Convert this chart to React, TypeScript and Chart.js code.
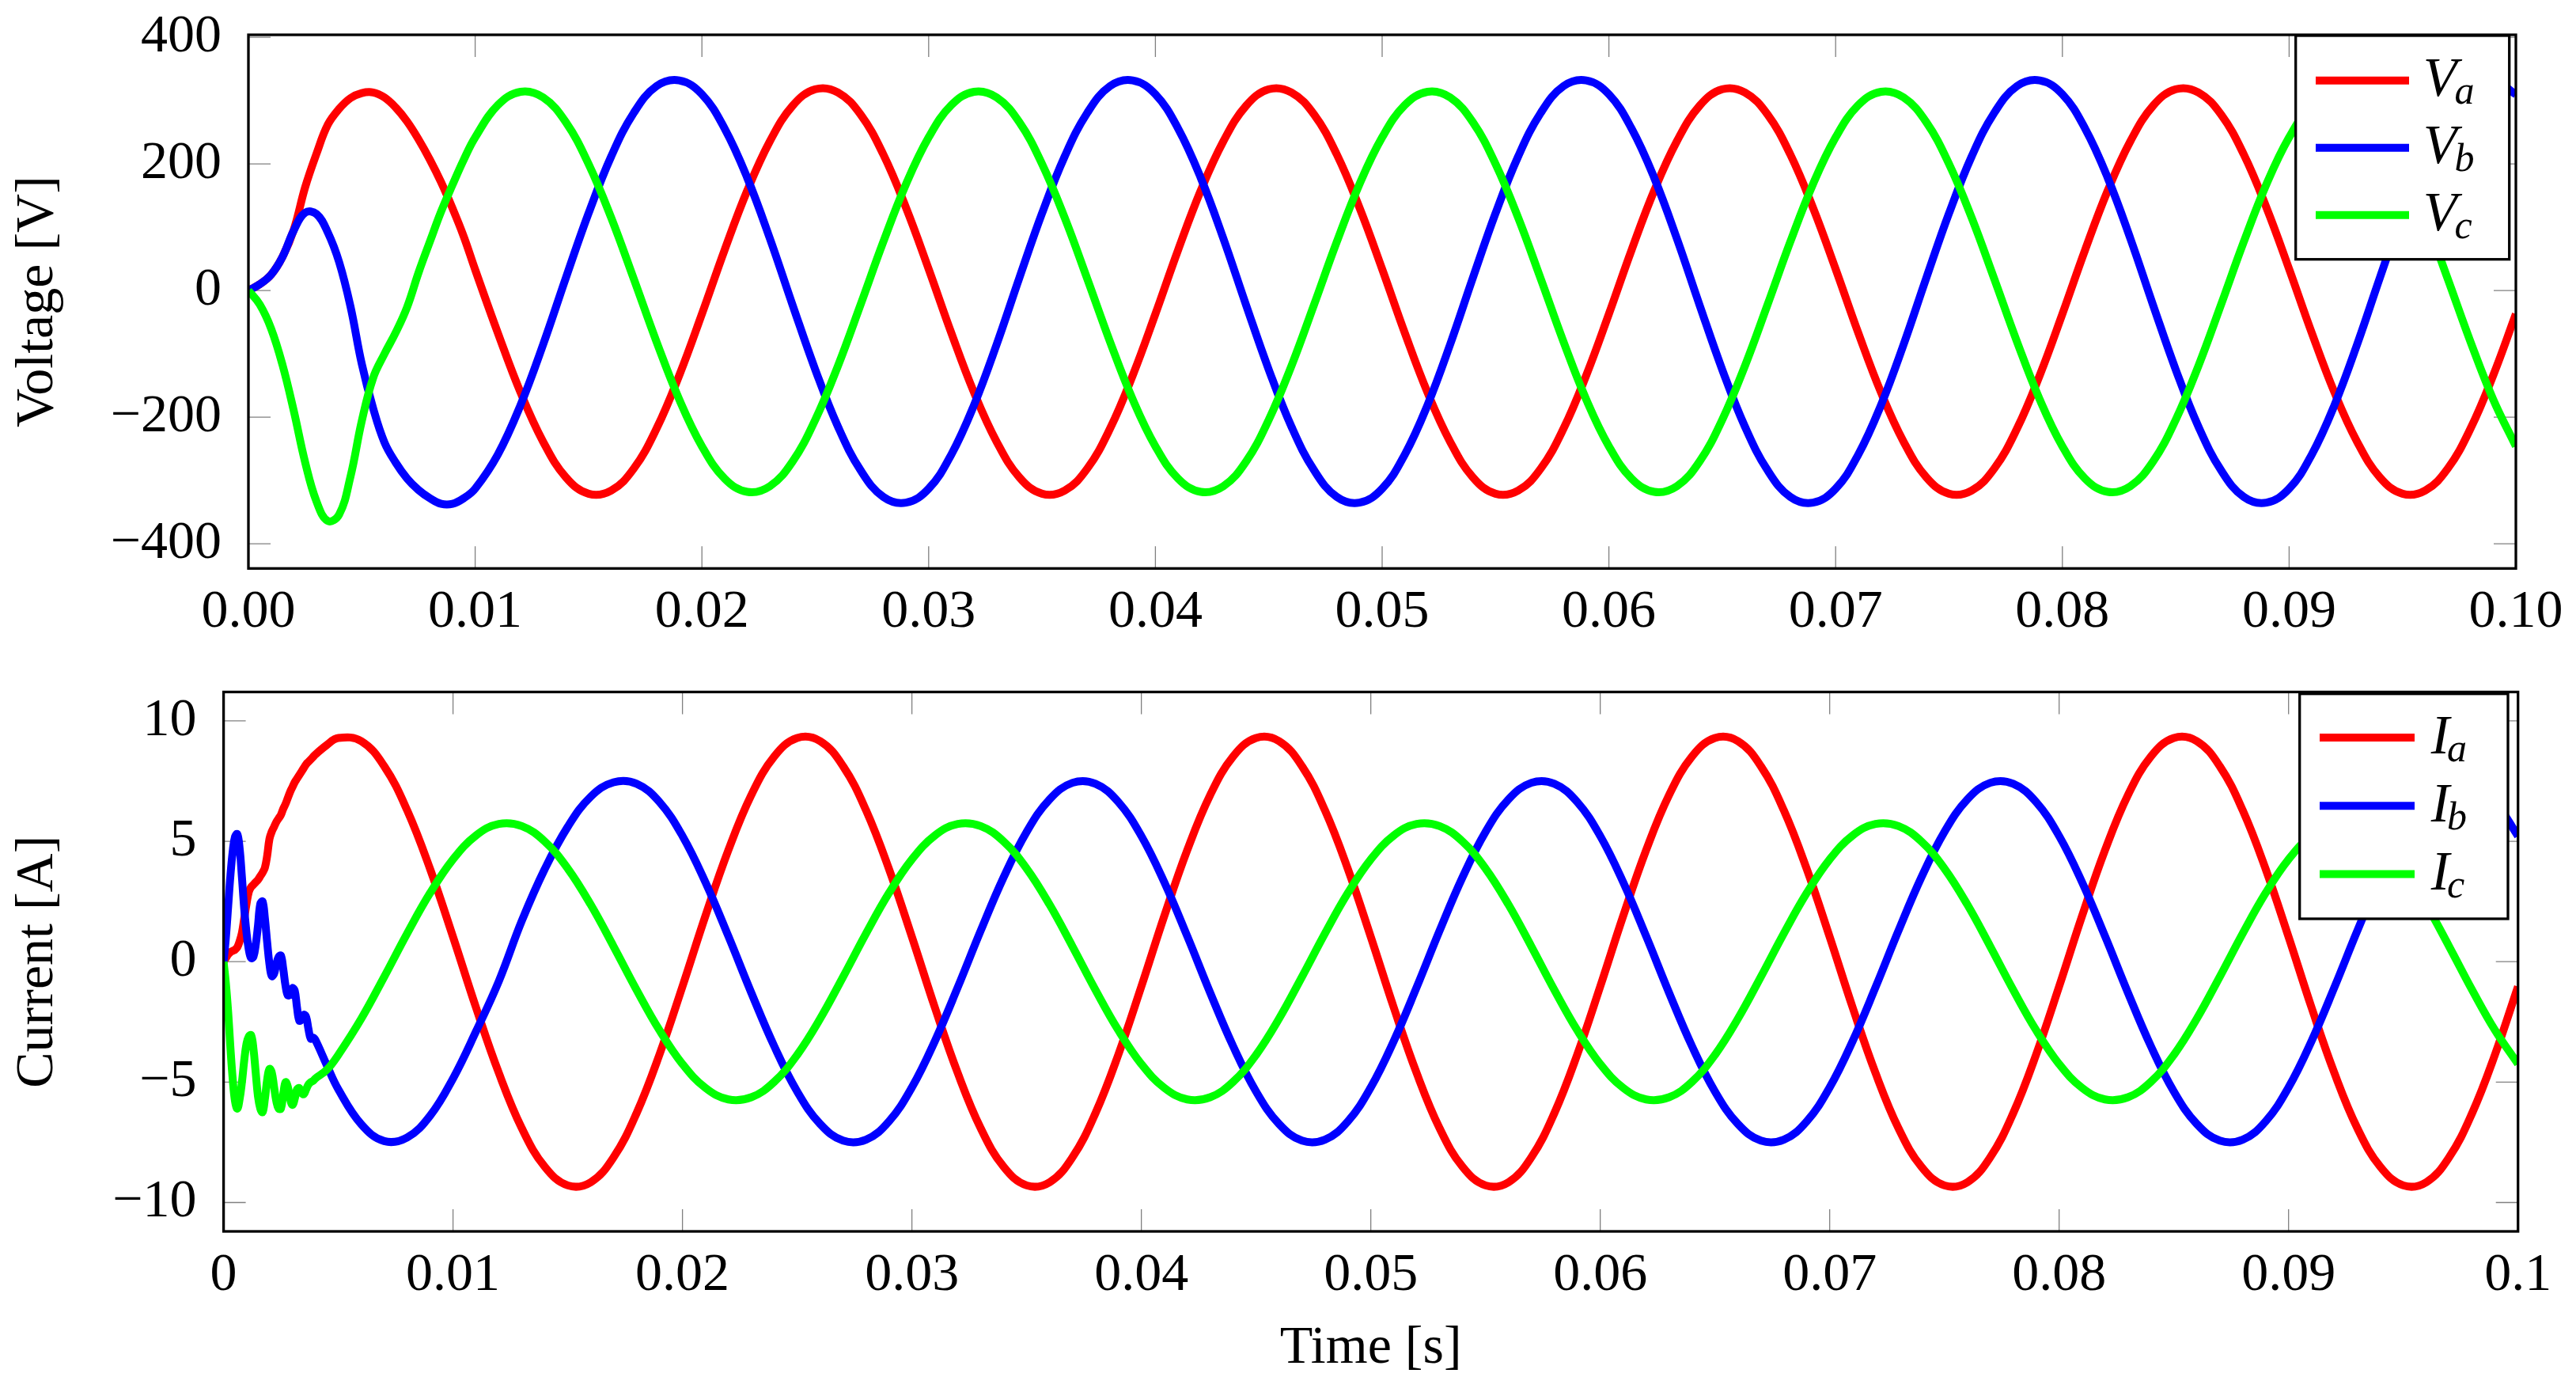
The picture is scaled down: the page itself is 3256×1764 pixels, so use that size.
import React, { useEffect, useRef } from 'react';
import { Chart, registerables } from 'chart.js';

Chart.register(...registerables);

const SERIF = "'Liberation Serif', 'Times New Roman', serif";

// ---------------- Voltage panel data (time in ms) ----------------
const voltageTimeMs = [
  0, 0.5, 1, 1.5, 2, 2.5, 3, 3.5, 4, 4.5, 5, 5.5, 6, 6.5, 7, 7.5, 8, 8.5, 9, 9.5, 10,
  11, 12, 13, 14, 15, 16, 17, 18, 19, 20,
  21, 22, 23, 24, 25, 26, 27, 28, 29, 30,
  31, 32, 33, 34, 35, 36, 37, 38, 39, 40,
  41, 42, 43, 44, 45, 46, 47, 48, 49, 50,
  51, 52, 53, 54, 55, 56, 57, 58, 59, 60,
  61, 62, 63, 64, 65, 66, 67, 68, 69, 70,
  71, 72, 73, 74, 75, 76, 77, 78, 79, 80,
  81, 82, 83, 84, 85, 86, 87, 88, 89, 90,
  91, 92, 93, 94, 95, 96, 97, 98, 99, 100,
];

const va = [
  0, 10, 25, 53, 96, 163, 216, 262, 287, 304, 312, 313, 305, 289, 267, 239, 207, 171, 130, 85, 33,
  -67, -161, -239, -295, -321, -316, -281, -218, -134,
  -37, 64, 158, 236, 292, 318, 313, 278, 215, 131, 34, -67, -161, -239, -295, -321, -316, -281, -218, -134,
  -37, 64, 158, 236, 292, 318, 313, 278, 215, 131, 34, -67, -161, -239, -295, -321, -316, -281, -218, -134,
  -37, 64, 158, 236, 292, 318, 313, 278, 215, 131, 34, -67, -161, -239, -295, -321, -316, -281, -218, -134,
  -37, 64, 158, 236, 292, 318, 313, 278, 215, 131, 34, -67, -161, -239, -295, -321, -316, -281, -218, -134,
  -37,
];

const vb = [
  0, 10, 25, 53, 95, 123, 121, 92, 45, -25, -116, -186, -240, -272, -297, -315, -328, -337, -337, -328, -313,
  -259, -181, -85, 20, 122, 212, 281, 323, 332,
  310, 256, 178, 82, -23, -125, -215, -284, -326, -335, -313, -259, -181, -85, 20, 122, 212, 281, 323, 332,
  310, 256, 178, 82, -23, -125, -215, -284, -326, -335, -313, -259, -181, -85, 20, 122, 212, 281, 323, 332,
  310, 256, 178, 82, -23, -125, -215, -284, -326, -335, -313, -259, -181, -85, 20, 122, 212, 281, 323, 332,
  310, 256, 178, 82, -23, -125, -215, -284, -326, -335, -313, -259, -181, -85, 20, 122, 212, 281, 323, 332,
  310,
];

const vc = [
  0, -22, -60, -117, -190, -271, -333, -364, -354, -294, -206, -138, -100, -66, -26, 28, 77, 125, 167, 207, 242,
  293, 314, 305, 266, 200, 115, 18, -81, -172,
  -246, -297, -318, -309, -270, -204, -119, -22, 77, 168, 242, 293, 314, 305, 266, 200, 115, 18, -81, -172,
  -246, -297, -318, -309, -270, -204, -119, -22, 77, 168, 242, 293, 314, 305, 266, 200, 115, 18, -81, -172,
  -246, -297, -318, -309, -270, -204, -119, -22, 77, 168, 242, 293, 314, 305, 266, 200, 115, 18, -81, -172,
  -246, -297, -318, -309, -270, -204, -119, -22, 77, 168, 242, 293, 314, 305, 266, 200, 115, 18, -81, -172,
  -246,
];

// ---------------- Current panel data (time in ms) ----------------
const currentTimeMs = [
  0, 0.1, 0.2, 0.3, 0.4, 0.5, 0.6, 0.7, 0.8, 0.9,
  1, 1.1, 1.2, 1.3, 1.4, 1.5, 1.6, 1.7, 1.8, 1.9,
  2, 2.1, 2.2, 2.3, 2.4, 2.5, 2.6, 2.7, 2.8, 2.9,
  3, 3.1, 3.2, 3.3, 3.4, 3.5, 3.6, 3.7, 3.8, 3.9,
  4, 4.5, 5,
  6, 7, 8, 9, 10, 11, 12, 13, 14, 15, 16, 17, 18, 19,
  20, 21, 22, 23, 24, 25, 26, 27, 28, 29, 30, 31, 32, 33, 34, 35, 36, 37, 38, 39,
  40, 41, 42, 43, 44, 45, 46, 47, 48, 49, 50, 51, 52, 53, 54, 55, 56, 57, 58, 59,
  60, 61, 62, 63, 64, 65, 66, 67, 68, 69, 70, 71, 72, 73, 74, 75, 76, 77, 78, 79,
  80, 81, 82, 83, 84, 85, 86, 87, 88, 89, 90, 91, 92, 93, 94, 95, 96, 97, 98, 99,
  100,
];

const ia = [
  0, 0.15, 0.3, 0.4, 0.45, 0.5, 0.6, 0.85, 1.2, 1.8,
  2.4, 2.9, 3.1, 3.2, 3.3, 3.4, 3.55, 3.7, 3.9, 4.4,
  5.1, 5.4, 5.6, 5.8, 5.95, 6.1, 6.35, 6.55, 6.8, 7.05,
  7.25, 7.45, 7.6, 7.75, 7.9, 8.05, 8.2, 8.3, 8.4, 8.5,
  8.6, 9.0, 9.29,
  9.16, 8.12, 6.29, 3.85, 1.03, -1.9, -4.63, -6.92, -8.52, -9.29, -9.16, -8.12, -6.29, -3.85,
  -1.03, 1.9, 4.63, 6.92, 8.52, 9.29, 9.16, 8.12, 6.29, 3.85, 1.03, -1.9, -4.63, -6.92, -8.52, -9.29, -9.16, -8.12, -6.29, -3.85,
  -1.03, 1.9, 4.63, 6.92, 8.52, 9.29, 9.16, 8.12, 6.29, 3.85, 1.03, -1.9, -4.63, -6.92, -8.52, -9.29, -9.16, -8.12, -6.29, -3.85,
  -1.03, 1.9, 4.63, 6.92, 8.52, 9.29, 9.16, 8.12, 6.29, 3.85, 1.03, -1.9, -4.63, -6.92, -8.52, -9.29, -9.16, -8.12, -6.29, -3.85,
  -1.03, 1.9, 4.63, 6.92, 8.52, 9.29, 9.16, 8.12, 6.29, 3.85, 1.03, -1.9, -4.63, -6.92, -8.52, -9.29, -9.16, -8.12, -6.29, -3.85,
  -1.03,
];

const ib = [
  0, 1.0, 2.3, 3.6, 4.6, 5.2, 5.3, 4.7, 3.5, 2.2,
  1.2, 0.5, 0.15, 0.2, 0.7, 1.5, 2.4, 2.5, 1.8, 0.8,
  -0.1, -0.6, -0.5, -0.1, 0.2, 0.25, -0.3, -1.0, -1.4, -1.35,
  -1.1, -1.2, -1.9, -2.45, -2.4, -2.2, -2.3, -2.8, -3.2, -3.15,
  -3.25, -4.3, -5.3,
  -6.75, -7.45, -7.3, -6.4, -4.85, -2.9, -0.8, 1.7, 3.85, 5.6, 6.85, 7.45, 7.39, 6.63,
  5.22, 3.3, 1.06, -1.29, -3.51, -5.39, -6.74, -7.43, -7.39, -6.63, -5.22, -3.3, -1.06, 1.29, 3.51, 5.39, 6.74, 7.43, 7.39, 6.63,
  5.22, 3.3, 1.06, -1.29, -3.51, -5.39, -6.74, -7.43, -7.39, -6.63, -5.22, -3.3, -1.06, 1.29, 3.51, 5.39, 6.74, 7.43, 7.39, 6.63,
  5.22, 3.3, 1.06, -1.29, -3.51, -5.39, -6.74, -7.43, -7.39, -6.63, -5.22, -3.3, -1.06, 1.29, 3.51, 5.39, 6.74, 7.43, 7.39, 6.63,
  5.22, 3.3, 1.06, -1.29, -3.51, -5.39, -6.74, -7.43, -7.39, -6.63, -5.22, -3.3, -1.06, 1.29, 3.51, 5.39, 6.74, 7.43, 7.39, 6.63,
  5.22,
];

const ic = [
  0, -0.9, -2.1, -3.6, -4.9, -5.8, -6.1, -5.7, -5.0, -4.1,
  -3.4, -3.1, -3.05, -3.6, -4.6, -5.6, -6.1, -6.25, -5.7, -4.9,
  -4.45, -4.6, -5.2, -5.8, -6.1, -6.1, -5.5, -5.0, -5.2, -5.7,
  -5.95, -5.7, -5.3, -5.25, -5.45, -5.5, -5.3, -5.1, -5.0, -4.95,
  -4.85, -4.49, -3.87,
  -2.37, -0.63, 1.17, 2.85, 4.25, 5.24, 5.72, 5.63, 4.99, 3.87, 2.37, 0.63, -1.17, -2.85,
  -4.25, -5.24, -5.72, -5.63, -4.99, -3.87, -2.37, -0.63, 1.17, 2.85, 4.25, 5.24, 5.72, 5.63, 4.99, 3.87, 2.37, 0.63, -1.17, -2.85,
  -4.25, -5.24, -5.72, -5.63, -4.99, -3.87, -2.37, -0.63, 1.17, 2.85, 4.25, 5.24, 5.72, 5.63, 4.99, 3.87, 2.37, 0.63, -1.17, -2.85,
  -4.25, -5.24, -5.72, -5.63, -4.99, -3.87, -2.37, -0.63, 1.17, 2.85, 4.25, 5.24, 5.72, 5.63, 4.99, 3.87, 2.37, 0.63, -1.17, -2.85,
  -4.25, -5.24, -5.72, -5.63, -4.99, -3.87, -2.37, -0.63, 1.17, 2.85, 4.25, 5.24, 5.72, 5.63, 4.99, 3.87, 2.37, 0.63, -1.17, -2.85,
  -4.25,
];

// ---------------- Labels, ticks, colours ----------------
const voltageSeriesLabels = ['V_a', 'V_b', 'V_c'];
const currentSeriesLabels = ['I_a', 'I_b', 'I_c'];
const seriesColors = ['rgb(255,0,0)', 'rgb(0,0,255)', 'rgb(0,255,0)'];

const timeTickValues = [0, 0.01, 0.02, 0.03, 0.04, 0.05, 0.06, 0.07, 0.08, 0.09, 0.1];
const voltageTimeTickLabels = ['0.00', '0.01', '0.02', '0.03', '0.04', '0.05', '0.06', '0.07', '0.08', '0.09', '0.10'];
const currentTimeTickLabels = ['0', '0.01', '0.02', '0.03', '0.04', '0.05', '0.06', '0.07', '0.08', '0.09', '0.1'];
const voltageTickValues = [-400, -200, 0, 200, 400];
const voltageTickLabels = ['\u2212400', '\u2212200', '0', '200', '400'];
const currentTickValues = [-10, -5, 0, 5, 10];
const currentTickLabels = ['\u221210', '\u22125', '0', '5', '10'];

Chart.defaults.font.family = SERIF;

// ---------------- Plugins ----------------
const framePlugin: any = {
  id: 'pgfFrame',
  beforeDatasetsDraw(chart: any, _a: any, o: any) {
    const { ctx, chartArea } = chart;
    const { left, right, top, bottom } = chartArea;
    const xs = chart.scales.x;
    const ys = chart.scales.y;
    ctx.save();
    ctx.strokeStyle = o.tickColor;
    ctx.lineWidth = o.tickWidth;
    ctx.beginPath();
    xs.ticks.forEach((t: any) => {
      const px = xs.getPixelForValue(t.value);
      ctx.moveTo(px, bottom);
      ctx.lineTo(px, bottom - o.tickLength);
      ctx.moveTo(px, top);
      ctx.lineTo(px, top + o.tickLength);
    });
    ys.ticks.forEach((t: any) => {
      const py = ys.getPixelForValue(t.value);
      ctx.moveTo(left, py);
      ctx.lineTo(left + o.tickLength, py);
      ctx.moveTo(right, py);
      ctx.lineTo(right - o.tickLength, py);
    });
    ctx.stroke();
    ctx.restore();
  },
  afterDatasetsDraw(chart: any, _a: any, o: any) {
    const { ctx, chartArea } = chart;
    ctx.save();
    ctx.strokeStyle = '#000';
    ctx.lineWidth = o.frameWidth;
    ctx.strokeRect(chartArea.left, chartArea.top, chartArea.right - chartArea.left, chartArea.bottom - chartArea.top);
    ctx.restore();
  },
};

const legendPlugin: any = {
  id: 'pgfLegend',
  afterDraw(chart: any, _a: any, o: any) {
    const { ctx, chartArea } = chart;
    const right = chartArea.right - o.insetRight;
    const left = right - o.width;
    const top = chartArea.top + o.insetTop;
    ctx.save();
    ctx.fillStyle = '#fff';
    ctx.fillRect(left, top, o.width, o.height);
    ctx.strokeStyle = '#000';
    ctx.lineWidth = o.borderWidth;
    ctx.strokeRect(left, top, o.width, o.height);
    chart.data.datasets.forEach((ds: any, i: number) => {
      const cy = top + o.firstRow + i * o.rowGap;
      ctx.strokeStyle = ds.borderColor;
      ctx.lineWidth = o.lineWidth;
      ctx.lineCap = 'butt';
      ctx.beginPath();
      ctx.moveTo(left + o.lineStart, cy);
      ctx.lineTo(left + o.lineEnd, cy);
      ctx.stroke();
      const parts = String(ds.label).split('_');
      const bx = left + o.textStart;
      const by = cy + o.baselineShift;
      ctx.fillStyle = '#000';
      ctx.textAlign = 'left';
      ctx.textBaseline = 'alphabetic';
      ctx.font = `italic ${o.mainSize}px ${SERIF}`;
      ctx.fillText(parts[0], bx, by);
      const w = ctx.measureText(parts[0]).width;
      if (parts[1]) {
        ctx.font = `italic ${o.subSize}px ${SERIF}`;
        ctx.fillText(parts[1], bx + w + o.subKern, by + o.subDrop);
      }
    });
    ctx.restore();
  },
};

// ---------------- Panel builder ----------------
type Panel = {
  timeMs: number[];
  series: number[][];
  labels: string[];
  xTickLabels: string[];
  yTickValues: number[];
  yTickLabels: string[];
  yMin: number;
  yMax: number;
  yTitle: string;
  xTitle: string | null;
  yAxisWidth: number;
  xAxisHeight: number;
  padding: { top: number; right: number; bottom: number; left: number };
  legend: any;
};

function buildConfig(p: Panel): any {
  const tickFont = { family: SERIF, size: 68, lineHeight: 1.2 };
  const zeroPad = (s: any) => {
    s.paddingLeft = 0;
    s.paddingRight = 0;
    s.paddingTop = 0;
    s.paddingBottom = 0;
  };
  return {
    type: 'line',
    data: {
      datasets: p.series.map((vals, i) => ({
        label: p.labels[i],
        data: vals.map((v, k) => ({ x: p.timeMs[k] / 1000, y: v })),
        borderColor: seriesColors[i],
        backgroundColor: seriesColors[i],
        borderWidth: 10,
        pointRadius: 0,
        pointHoverRadius: 0,
        fill: false,
        tension: 0.4,
        borderJoinStyle: 'round',
        clip: 0,
        order: 3 - i,
      })),
    },
    options: {
      responsive: false,
      maintainAspectRatio: false,
      devicePixelRatio: 1,
      animation: false,
      events: [],
      parsing: false,
      normalized: true,
      layout: { padding: p.padding, autoPadding: false },
      plugins: {
        legend: { display: false },
        tooltip: { enabled: false },
        pgfFrame: { tickColor: 'rgb(128,128,128)', tickWidth: 1.3, tickLength: 28, frameWidth: 3.3 },
        pgfLegend: p.legend,
      },
      scales: {
        x: {
          type: 'linear',
          min: 0,
          max: 0.1,
          bounds: 'data',
          afterBuildTicks: (s: any) => {
            s.ticks = timeTickValues.map((v) => ({ value: v }));
          },
          afterFit: (s: any) => {
            s.height = p.xAxisHeight;
            zeroPad(s);
          },
          grid: { display: false },
          border: { display: false },
          ticks: {
            autoSkip: false,
            maxRotation: 0,
            minRotation: 0,
            padding: 7,
            color: '#000',
            font: tickFont,
            callback: (_v: any, i: number) => p.xTickLabels[i],
          },
          title: p.xTitle
            ? {
                display: true,
                text: p.xTitle,
                color: '#000',
                font: tickFont,
                padding: { top: 0, bottom: 19 },
              }
            : { display: false },
        },
        y: {
          type: 'linear',
          min: p.yMin,
          max: p.yMax,
          bounds: 'data',
          afterBuildTicks: (s: any) => {
            s.ticks = p.yTickValues.map((v) => ({ value: v }));
          },
          afterFit: (s: any) => {
            s.width = p.yAxisWidth;
            zeroPad(s);
          },
          grid: { display: false },
          border: { display: false },
          ticks: {
            autoSkip: false,
            padding: 26,
            color: '#000',
            font: tickFont,
            callback: (_v: any, i: number) => p.yTickLabels[i],
          },
          title: {
            display: true,
            text: p.yTitle,
            color: '#000',
            font: tickFont,
            padding: { top: 7, bottom: 0 },
          },
        },
      },
    },
    plugins: [framePlugin, legendPlugin],
  };
}

const TOP_H = 830;
const BOTTOM_H = 934;

const voltagePanel: Panel = {
  timeMs: voltageTimeMs,
  series: [va, vb, vc],
  labels: voltageSeriesLabels,
  xTickLabels: voltageTimeTickLabels,
  yTickValues: voltageTickValues,
  yTickLabels: voltageTickLabels,
  yMin: -439,
  yMax: 404,
  yTitle: 'Voltage [V]',
  xTitle: null,
  yAxisWidth: 314,
  xAxisHeight: 82,
  padding: { top: 44, right: 76, bottom: TOP_H - 718.3 - 82, left: 0 },
  legend: {
    width: 270, height: 282.7, insetRight: 8.3, insetTop: 1,
    firstRow: 56.7, rowGap: 85, lineStart: 25.3, lineEnd: 143.3,
    textStart: 161, baselineShift: 19, mainSize: 70, subSize: 50, subDrop: 10, subKern: -3,
    borderWidth: 3.3, lineWidth: 10,
  },
};

const currentPanel: Panel = {
  timeMs: currentTimeMs,
  series: [ia, ib, ic],
  labels: currentSeriesLabels,
  xTickLabels: currentTimeTickLabels,
  yTickValues: currentTickValues,
  yTickLabels: currentTickLabels,
  yMin: -11.2,
  yMax: 11.2,
  yTitle: 'Current [A]',
  xTitle: 'Time [s]',
  yAxisWidth: 282.6,
  xAxisHeight: BOTTOM_H - 726,
  padding: { top: 44.4, right: 73.3, bottom: 0, left: 0 },
  legend: {
    width: 263.3, height: 284.3, insetRight: 12.7, insetTop: 2.3,
    firstRow: 55.3, rowGap: 86.2, lineStart: 25.3, lineEnd: 145.3,
    textStart: 166, baselineShift: 20, mainSize: 70, subSize: 50, subDrop: 10, subKern: -3,
    borderWidth: 3.3, lineWidth: 10,
  },
};

function PanelChart({ panel, top, height }: { panel: Panel; top: number; height: number }) {
  const ref = useRef<HTMLCanvasElement | null>(null);
  useEffect(() => {
    let chart: any = null;
    let cancelled = false;
    const make = () => {
      if (cancelled || !ref.current) return;
      chart = new Chart(ref.current, buildConfig(panel));
    };
    const fonts: any = (document as any).fonts;
    if (fonts && fonts.load) {
      Promise.all([
        fonts.load("68px 'Liberation Serif'"),
        fonts.load("italic 70px 'Liberation Serif'"),
      ])
        .catch(() => null)
        .then(make);
    } else {
      make();
    }
    return () => {
      cancelled = true;
      if (chart) chart.destroy();
    };
  }, [panel]);
  return (
    <canvas
      ref={ref}
      width={3256}
      height={height}
      style={{ position: 'absolute', left: 0, top, width: 3256, height, display: 'block' }}
    />
  );
}

export default function App() {
  return (
    <div
      style={{
        position: 'fixed',
        left: 0,
        top: 0,
        width: 3256,
        height: 1764,
        background: '#ffffff',
        overflow: 'hidden',
      }}
    >
      <PanelChart panel={voltagePanel} top={0} height={TOP_H} />
      <PanelChart panel={currentPanel} top={TOP_H} height={BOTTOM_H} />
    </div>
  );
}
